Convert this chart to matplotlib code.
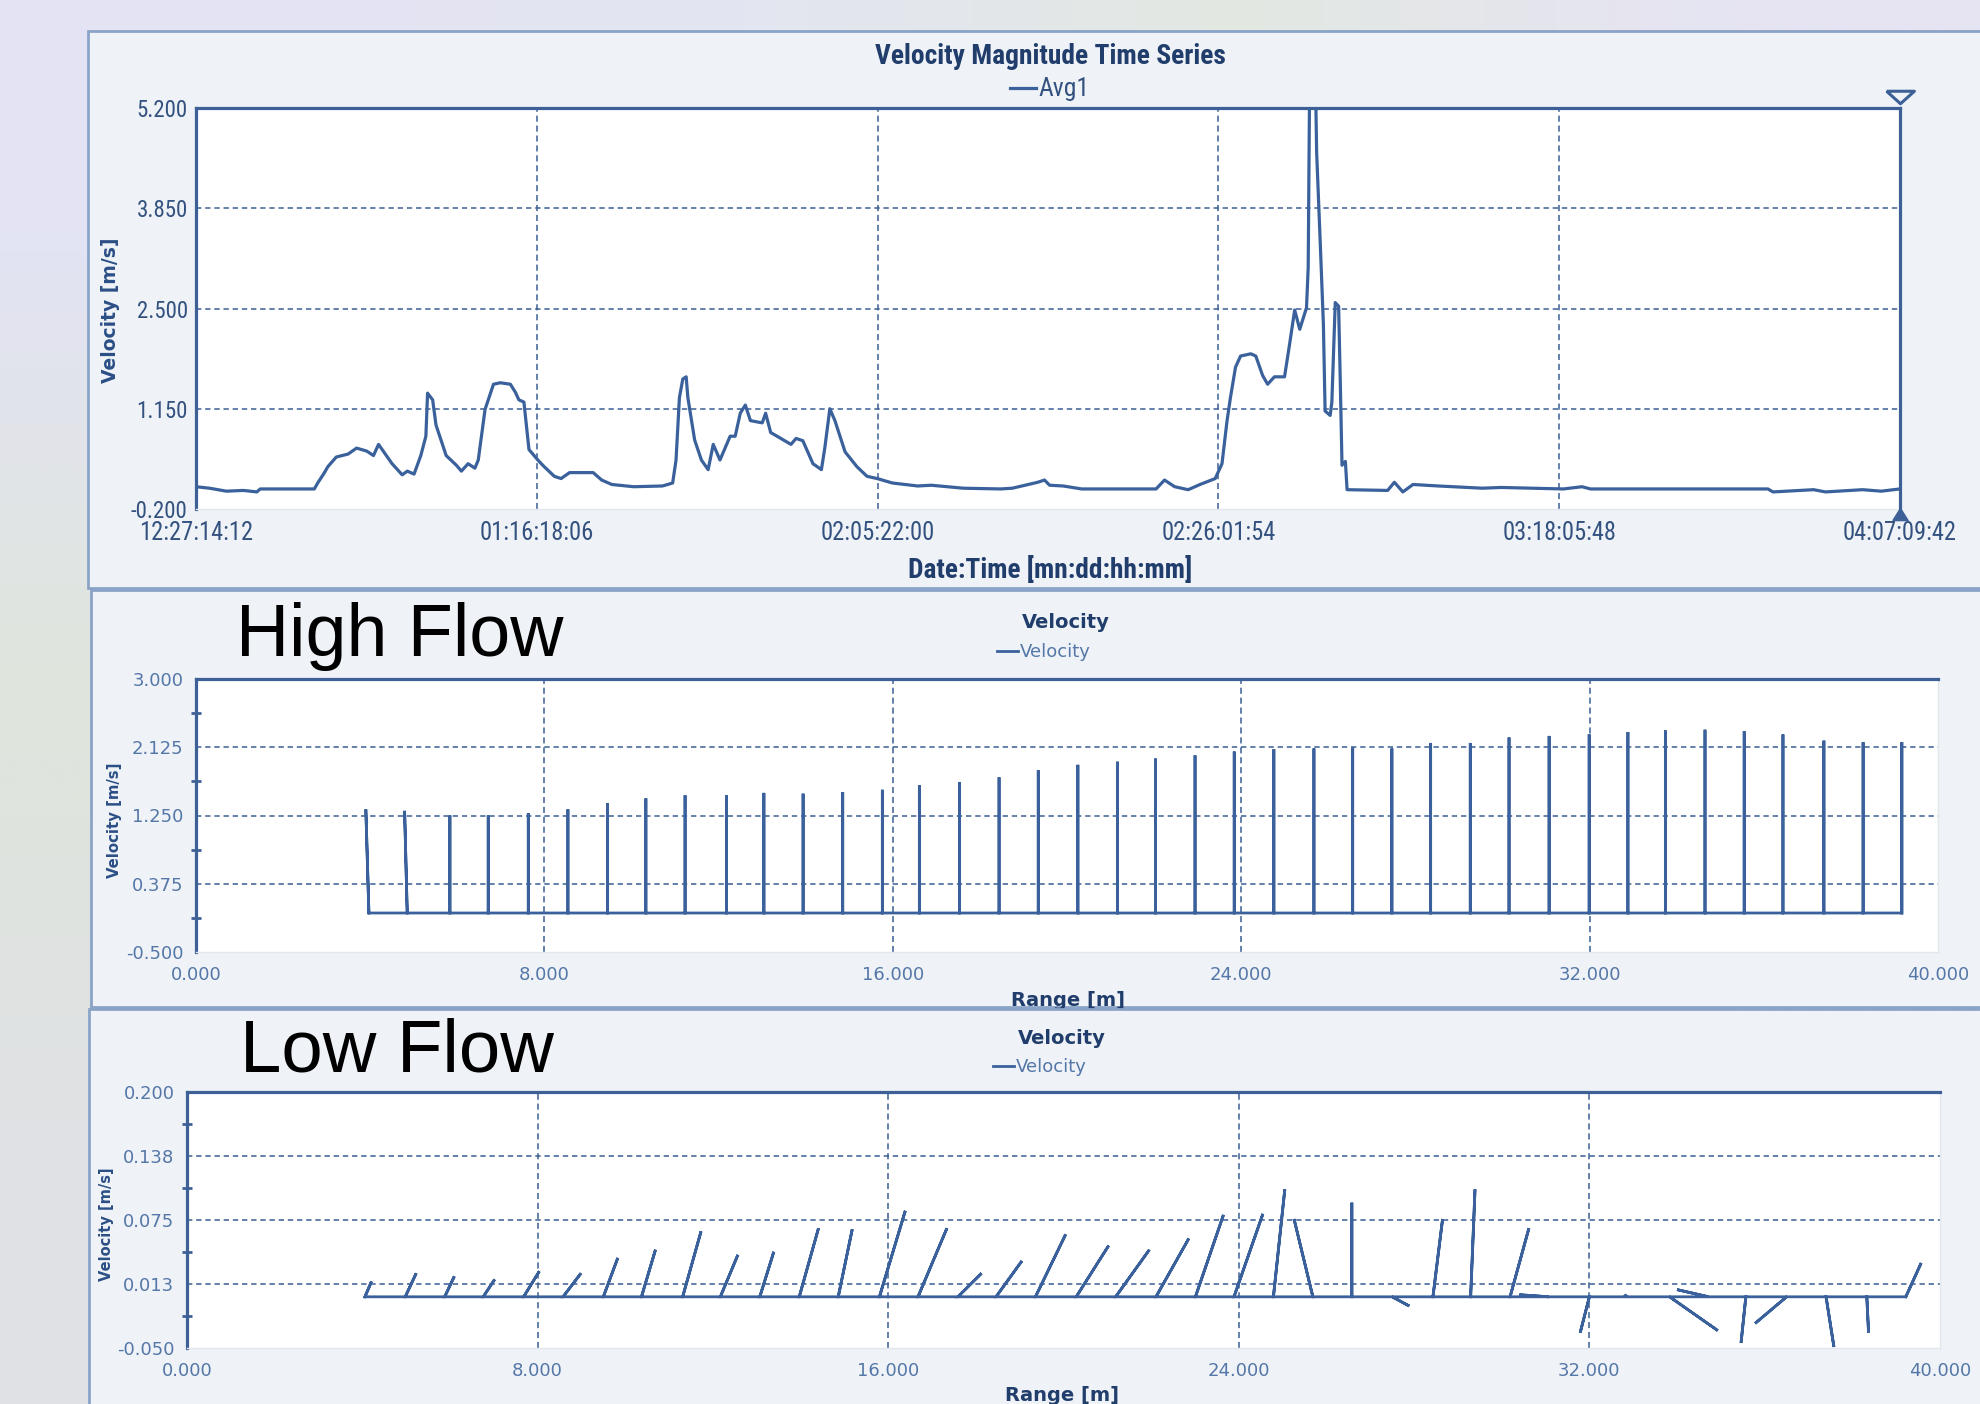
import datetime as dt
import matplotlib
matplotlib.use('Agg')
import matplotlib.pyplot as plt
import numpy as np
from matplotlib import font_manager
from matplotlib.font_manager import FontProperties, findfont
from matplotlib.patches import Rectangle
from matplotlib.ticker import AutoMinorLocator
from matplotlib.transforms import offset_copy

# --- top chart: velocity magnitude time series
ts_start = dt.datetime(2010, 12, 27, 14, 12)
ts_days = [0.0, 0.8, 1.8, 2.8, 3.6, 3.8, 7.0, 7.2, 7.6, 7.8, 8.3, 9.0, 9.5, 10.1,
           10.5, 10.8, 11.2, 11.6, 12.2, 12.5, 12.9, 13.3, 13.6, 13.7, 14.0, 14.2,
           14.8, 15.4, 15.7, 16.1, 16.5, 16.7, 16.9, 17.1, 17.6, 18.0, 18.6, 18.9,
           19.1, 19.4, 19.7, 20.3, 20.6, 21.2, 21.6, 22.1, 23.5, 24.0, 24.6, 25.9,
           27.6, 28.2, 28.4, 28.6, 28.8, 29.0, 29.1, 29.5, 29.9, 30.3, 30.6, 31.0,
           31.6, 31.9, 32.2, 32.5, 32.8, 33.5, 33.7, 34.0, 34.6, 35.2, 35.5, 35.9,
           36.5, 37.0, 37.2, 37.5, 37.8, 38.4, 39.1, 39.7, 40.3, 41.2, 42.7, 43.5,
           45.4, 47.6, 48.3, 49.8, 50.2, 50.5, 51.3, 52.4, 56.8, 57.3, 57.9, 58.7,
           59.4, 60.3, 60.7, 61.0, 61.2, 61.5, 61.8, 62.4, 62.7, 63.1, 63.4, 63.8,
           64.4, 64.7, 65.0, 65.3, 65.7, 65.8, 65.9, 66.2, 66.3, 66.5, 66.7, 66.8,
           67.1, 67.2, 67.4, 67.6, 67.7, 67.8, 68.0, 68.1, 70.5, 70.9, 71.4, 72.0,
           73.5, 76.1, 77.2, 80.9, 82.0, 82.5, 93.0, 93.3, 95.7, 96.4, 98.6, 99.7,
           100.8]
ts_vel = [0.10, 0.08, 0.04, 0.05, 0.03, 0.07, 0.07, 0.15, 0.29, 0.37, 0.50, 0.54,
          0.62, 0.58, 0.52, 0.67, 0.54, 0.41, 0.26, 0.31, 0.27, 0.52, 0.78, 1.36,
          1.27, 0.93, 0.52, 0.39, 0.31, 0.41, 0.35, 0.46, 0.80, 1.14, 1.48, 1.50,
          1.48, 1.37, 1.27, 1.24, 0.60, 0.44, 0.37, 0.24, 0.21, 0.29, 0.29, 0.19,
          0.13, 0.10, 0.11, 0.15, 0.46, 1.30, 1.55, 1.58, 1.30, 0.73, 0.46, 0.33,
          0.67, 0.46, 0.78, 0.78, 1.09, 1.20, 0.99, 0.96, 1.09, 0.83, 0.75, 0.67,
          0.75, 0.72, 0.41, 0.33, 0.62, 1.15, 0.99, 0.57, 0.37, 0.24, 0.21, 0.15,
          0.11, 0.12, 0.08, 0.07, 0.08, 0.16, 0.19, 0.12, 0.11, 0.07, 0.07, 0.19,
          0.10, 0.06, 0.13, 0.21, 0.41, 0.99, 1.30, 1.71, 1.86, 1.89, 1.86, 1.60,
          1.48, 1.58, 1.58, 2.02, 2.48, 2.22, 2.51, 3.05, 6.00, 6.00, 4.60, 3.46,
          2.28, 1.12, 1.06, 1.24, 2.58, 2.53, 1.50, 0.39, 0.44, 0.06, 0.05, 0.16,
          0.03, 0.13, 0.11, 0.08, 0.09, 0.07, 0.10, 0.07, 0.07, 0.03, 0.06, 0.03,
          0.06, 0.04, 0.07]
ts_ticklabels = ['12:27:14:12', '01:16:18:06', '02:05:22:00',
                 '02:26:01:54', '03:18:05:48', '04:07:09:42']
ts_yticks = [-0.2, 1.15, 2.5, 3.85, 5.2]

# --- high flow profile (range m, velocity m/s, tip lean m)
high_range = [3.97, 4.85, 5.83, 6.71, 7.63, 8.54, 9.45, 10.33, 11.23, 12.18,
              13.04, 13.94, 14.85, 15.76, 16.61, 17.53, 18.44, 19.34, 20.25, 21.16,
              22.03, 22.94, 23.84, 24.75, 25.67, 26.56, 27.46, 28.35, 29.26, 30.15,
              31.07, 31.99, 32.88, 33.74, 34.65, 35.55, 36.44, 37.38, 38.28, 39.17]
high_vel = [1.33, 1.31, 1.25, 1.25, 1.28, 1.33, 1.41, 1.47, 1.51, 1.51,
            1.54, 1.53, 1.55, 1.58, 1.64, 1.68, 1.74, 1.83, 1.90, 1.94,
            1.98, 2.02, 2.07, 2.10, 2.11, 2.12, 2.11, 2.18, 2.18, 2.25,
            2.27, 2.29, 2.32, 2.34, 2.35, 2.33, 2.29, 2.21, 2.19, 2.19]
high_lean = [-0.07, -0.06, 0.0, 0.0, 0.0, 0.0, 0.0, 0.0, 0.0, 0.0,
             0.0, 0.0, 0.0, 0.0, 0.0, 0.0, 0.0, 0.0, 0.0, 0.0,
             0.0, 0.0, 0.0, 0.0, 0.0, 0.0, 0.0, 0.0, 0.0, 0.0,
             0.0, 0.0, 0.0, 0.0, 0.0, 0.0, 0.0, 0.0, 0.0, 0.0]
high_yticks = [-0.5, 0.375, 1.25, 2.125, 3.0]

# --- low flow profile (range m, tip range m, velocity m/s)
low_range = [4.06, 4.98, 5.88, 6.76, 7.68, 8.58, 9.50, 10.37, 11.31, 12.17,
             13.07, 13.97, 14.86, 15.80, 16.68, 17.59, 18.46, 19.36, 20.29, 21.19,
             22.11, 23.01, 23.89, 24.79, 25.69, 26.58, 27.50, 28.43, 29.29, 30.19,
             31.07, 32.00, 32.86, 33.83, 34.72, 35.57, 36.50, 37.40, 38.33, 39.22]
low_tip = [4.21, 5.23, 6.10, 7.02, 8.04, 8.99, 9.83, 10.69, 11.73, 12.57,
           13.39, 14.41, 15.18, 16.39, 17.34, 18.13, 19.05, 20.05, 21.03, 21.96,
           22.86, 23.65, 24.55, 25.05, 25.26, 26.58, 27.89, 28.65, 29.39, 30.62,
           30.40, 31.79, 32.80, 34.93, 34.00, 35.46, 35.78, 37.58, 38.37, 39.57]
low_vel = [0.015, 0.023, 0.020, 0.017, 0.025, 0.023, 0.038, 0.046, 0.064, 0.041,
           0.044, 0.067, 0.066, 0.084, 0.067, 0.023, 0.035, 0.061, 0.050, 0.046,
           0.057, 0.080, 0.081, 0.105, 0.076, 0.092, -0.009, 0.076, 0.105, 0.067,
           0.002, -0.035, 0.002, -0.033, 0.007, -0.045, -0.026, -0.049, -0.035, 0.033]
low_yticks = [-0.05, 0.0125, 0.075, 0.1375, 0.2]
low_yticklabels = ['-0.050', '0.013', '0.075', '0.138', '0.200']

range_ticks = [0, 8, 16, 24, 32, 40]

# colours
LINE = '#3a619b'
SPINE = '#3d6096'
GRID = '#3a5f94'
TITLE = '#203d6c'
TICK_TOP = '#34527f'
TICK_LOW = '#5577a8'
PANEL = '#eff3f7'
PANEL_EDGE = '#8aa4c8'

names = {f.name for f in font_manager.fontManager.ttflist}


def narrow_font():
    # the top screenshot uses a squeezed font; find something condensed
    for fam in ['Liberation Sans Narrow', 'Roboto Condensed', 'DejaVu Sans Condensed',
                'Noto Sans Condensed', 'Open Sans Condensed']:
        if fam in names:
            return {'family': fam}
    for fam in ['DejaVu Sans', 'Roboto', 'Noto Sans', 'Open Sans']:
        try:
            p = findfont(FontProperties(family=fam, stretch='condensed'),
                         fallback_to_default=False)
        except ValueError:
            continue
        if 'ondensed' in p or 'arrow' in p:
            return {'family': fam, 'stretch': 'condensed'}
    return {'family': 'DejaVu Sans'}


NARROW = narrow_font()
ARIAL = 'Liberation Sans' if 'Liberation Sans' in names else 'DejaVu Sans'

W, H = 1980, 1404
fig = plt.figure(figsize=(W / 100, H / 100), dpi=100)


def box(l, t, r, b):
    return [l / W, 1 - b / H, (r - l) / W, (b - t) / H]


def fx(px):
    return px / W


def fy(py):
    return 1 - py / H


# slide background
bg = fig.add_axes([0, 0, 1, 1], zorder=-10)
bg_cols = [['#e3e3f4', '#e4e5f1', '#e3e8e2', '#e6e4f3'],
           ['#dfe5dc', '#e2e6e2', '#e5e6ee', '#e6e6f0'],
           ['#dfe1e5', '#e0e2e6', '#e4e6ea', '#e6e6ea']]
rgb = np.array([[matplotlib.colors.to_rgb(c) for c in row] for row in bg_cols])
bg.imshow(rgb, aspect='auto', interpolation='bilinear', extent=[0, 1, 0, 1])
bg.axis('off')

# panel frames
for (l, t, r, b), z in [((88, 31, 2010, 588), -6), ((91, 590, 2010, 1007), -6),
                        ((89, 1009, 2010, 1420), -4)]:
    fig.add_artist(Rectangle((fx(l), fy(b)), (r - l) / W, (b - t) / H,
                             transform=fig.transFigure, facecolor=PANEL,
                             edgecolor=PANEL_EDGE, lw=2, zorder=z))


def style_axes(ax):
    ax.set_facecolor('white')
    for side in ('left', 'top'):
        ax.spines[side].set_color(SPINE)
        ax.spines[side].set_linewidth(2.3)
    for side in ('right', 'bottom'):
        ax.spines[side].set_color('#e2e7ee')
        ax.spines[side].set_linewidth(1)
    ax.tick_params(axis='both', which='major', length=0)


def dashed_grid(ax, ys, xs):
    for y in ys:
        ax.axhline(y, color=GRID, lw=1.1, ls=(0, (3.5, 2.5)), zorder=1)
    for x in xs:
        ax.axvline(x, color=GRID, lw=1.1, ls=(0, (4, 2.5)), zorder=1)


def narrow_props(size, bold=False):
    return FontProperties(size=size, weight='bold' if bold else 'normal', **NARROW)


# ---------------- top: time series ----------------
ax1 = fig.add_axes(box(196, 108, 1900, 509))
style_axes(ax1)
times = [ts_start + dt.timedelta(days=d) for d in ts_days]
tick_times = [dt.datetime(2010 if s[:2] == '12' else 2011, int(s[:2]), int(s[3:5]),
                          int(s[6:8]), int(s[9:11])) for s in ts_ticklabels]
ax1.plot(times, ts_vel, color=LINE, lw=2.3, label='Avg1', zorder=3)
ax1.set_xlim(tick_times[0], tick_times[-1])
ax1.set_ylim(-0.2, 5.2)
dashed_grid(ax1, ts_yticks[1:-1], tick_times[1:-1])
ax1.set_xticks(tick_times)
ax1.set_xticklabels(ts_ticklabels, fontproperties=narrow_props(17.5), color=TICK_TOP)
ax1.set_yticks(ts_yticks)
ax1.set_yticklabels(['%.3f' % v for v in ts_yticks],
                    fontproperties=narrow_props(17.5), color=TICK_TOP)
ax1.tick_params(axis='x', pad=9)
ax1.tick_params(axis='y', pad=6)

# cursor at the end of the record
ax1.plot([tick_times[-1], tick_times[-1]], [-0.2, 5.2], color=SPINE, lw=2.3,
         clip_on=False, zorder=4)
ax1.plot([tick_times[-1]], [5.2], linestyle='none', clip_on=False, zorder=5,
         marker=[(-1, 0.45), (1, 0.45), (0, -0.45), (-1, 0.45)], markersize=20,
         markerfacecolor=PANEL, markeredgecolor=SPINE, markeredgewidth=2.2,
         transform=offset_copy(ax1.transData, fig=fig, y=11.5, units='dots'))
ax1.plot([tick_times[-1]], [-0.2], linestyle='none', clip_on=False, zorder=5,
         marker=[(-1, -0.8), (1, -0.8), (0, 0.8), (-1, -0.8)], markersize=11,
         markerfacecolor=SPINE, markeredgecolor=SPINE,
         transform=offset_copy(ax1.transData, fig=fig, y=-5, units='dots'))

top_title = fig.text(fx(1050), fy(57), 'Velocity Magnitude Time Series',
                     ha='center', va='center', fontproperties=narrow_props(19, True),
                     color=TITLE)
leg1 = ax1.legend(loc='center', bbox_to_anchor=(fx(1050), fy(89)),
                  bbox_transform=fig.transFigure, frameon=False, handlelength=1.1,
                  handletextpad=0.1, borderpad=0, prop=narrow_props(17),
                  labelcolor=TICK_TOP)
top_xlabel = fig.text(fx(1050), fy(570), 'Date:Time [mn:dd:hh:mm]', ha='center',
                      va='center', fontproperties=narrow_props(19, True), color=TITLE)
fig.text(fx(111), fy(310), 'Velocity [m/s]', rotation=90, ha='center', va='center',
         fontweight='bold', fontsize=13.5, color='#2b4f86')


def profile(ax, base, tip, vel):
    xs, ys = [], []
    for b, t, v in zip(base, tip, vel):
        xs += [b, t, b]
        ys += [0, v, 0]
    ax.plot(xs, ys, color=LINE, lw=2.0, zorder=3, label='Velocity',
            solid_joinstyle='miter')


def range_axes(ax, yticks, ylabels):
    style_axes(ax)
    ax.set_xlim(0, 40)
    ax.set_ylim(yticks[0], yticks[-1])
    dashed_grid(ax, yticks[1:-1], range_ticks[1:-1])
    ax.set_xticks(range_ticks)
    ax.set_xticklabels(['%.3f' % v for v in range_ticks], fontsize=13,
                       color=TICK_LOW)
    ax.set_yticks(yticks)
    ax.set_yticklabels(ylabels, fontsize=13, color=TICK_LOW)
    ax.yaxis.set_minor_locator(AutoMinorLocator(2))
    ax.tick_params(axis='y', which='minor', direction='inout', length=7,
                   width=2, color=SPINE)
    ax.tick_params(axis='x', pad=10)
    ax.tick_params(axis='y', pad=9)


def range_titles(ax, cx, ty, ly):
    fig.text(fx(cx), fy(ty), 'Velocity', ha='center', va='center',
             fontweight='bold', fontsize=14, color=TITLE)
    ax.legend(loc='center', bbox_to_anchor=(fx(cx - 22), fy(ly)),
              bbox_transform=fig.transFigure, frameon=False, handlelength=1.2,
              handletextpad=0.1, borderpad=0, fontsize=13, labelcolor=TICK_LOW)


# ---------------- middle: high flow ----------------
ax2 = fig.add_axes(box(196, 679, 1938, 952))
high_tip = [r + d for r, d in zip(high_range, high_lean)]
profile(ax2, high_range, high_tip, high_vel)
range_axes(ax2, high_yticks, ['%.3f' % v for v in high_yticks])
range_titles(ax2, 1066, 623, 652)
fig.text(fx(1068), fy(991), 'Range [m]', ha='center', va='top', fontweight='bold',
         fontsize=14, color=TITLE, zorder=-5)
fig.text(fx(115), fy(820), 'Velocity [m/s]', rotation=90, ha='center', va='center',
         fontweight='bold', fontsize=10.7, color='#2b4f86')
fig.text(fx(236), fy(656), 'High Flow', ha='left', va='baseline',
         fontfamily=ARIAL, fontsize=53, color='black')

# ---------------- bottom: low flow ----------------
ax3 = fig.add_axes(box(187, 1092, 1940, 1348))
profile(ax3, low_range, low_tip, low_vel)
range_axes(ax3, low_yticks, low_yticklabels)
range_titles(ax3, 1062, 1038, 1067)
fig.text(fx(1062), fy(1386), 'Range [m]', ha='center', va='top', fontweight='bold',
         fontsize=14, color=TITLE)
fig.text(fx(106), fy(1224), 'Velocity [m/s]', rotation=90, ha='center',
         va='center', fontweight='bold', fontsize=10.5, color='#2b4f86')
fig.text(fx(240), fy(1072), 'Low Flow', ha='left', va='baseline',
         fontfamily=ARIAL, fontsize=53.5, color='black')


# the top screenshot is squeezed sideways: size its texts to the widths seen there
fig.canvas.draw()
renderer = fig.canvas.get_renderer()


def fit_width(texts, target_px):
    w = max(t.get_window_extent(renderer).width for t in texts)
    size = texts[0].get_fontsize() * target_px / w
    for t in texts:
        t.set_fontsize(size)


fit_width([top_title], 352)
fit_width([top_xlabel], 285)
fit_width(ax1.get_xticklabels(), 114)
fit_width(ax1.get_yticklabels(), 57)
fit_width(leg1.get_texts(), 51)

fig.savefig('out.png', dpi=100)
